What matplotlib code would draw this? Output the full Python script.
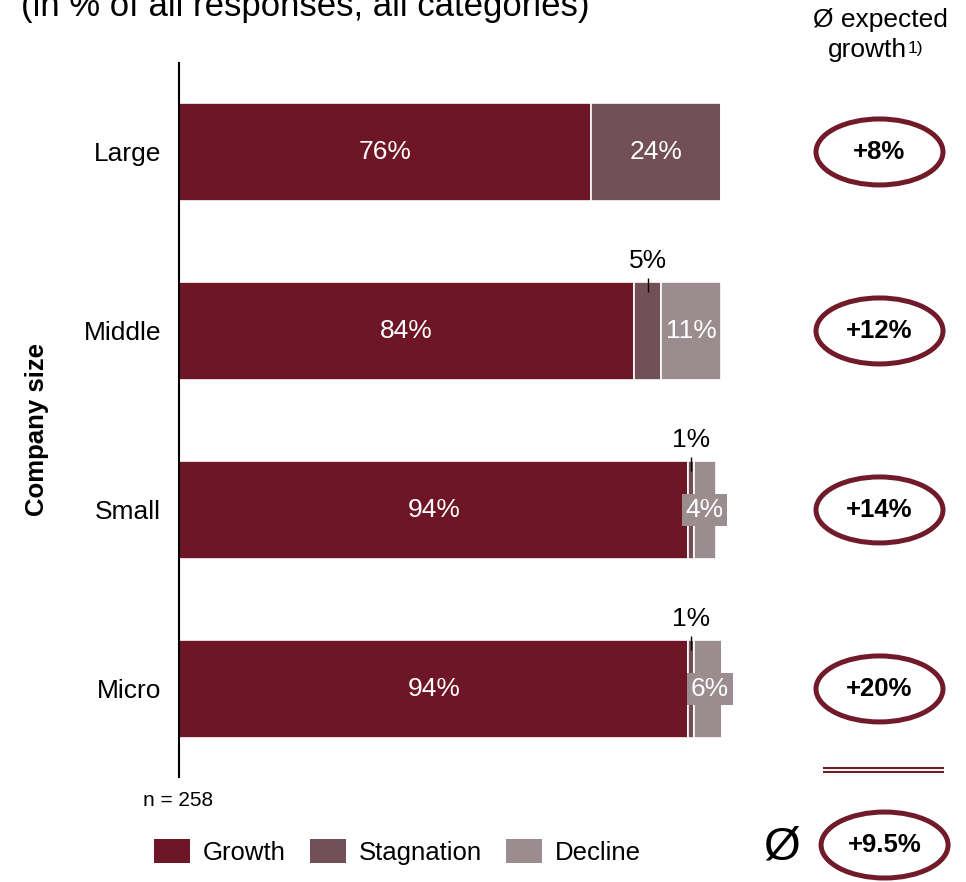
import matplotlib
matplotlib.use("Agg")
import matplotlib.pyplot as plt
from matplotlib.patches import Ellipse, Patch

plt.rcParams['font.family'] = ['Liberation Sans', 'DejaVu Sans']

# --- data ---------------------------------------------------------------
categories = ["Large", "Middle", "Small", "Micro"]
growth = [76, 84, 94, 94]
stagnation = [24, 5, 1, 1]
decline = [0, 11, 4, 6]
expected_growth = [8, 12, 14, 20]
overall_growth = 9.5
n_responses = 258
series_names = ["Growth", "Stagnation", "Decline"]

# --- style --------------------------------------------------------------
C_GROWTH = "#6E1526"
C_STAG = "#735058"
C_DECL = "#9B8D8F"
C_RING = "#701A2A"

W, H = 966, 882
fig = plt.figure(figsize=(W / 100, H / 100), dpi=100)


def fx(px):
    return px / W


def fy(py):
    return 1 - py / H


# main bar axes: x from 179 px to 721 px, y from 63 px to 777 px
ax = fig.add_axes([fx(179), fy(777), fx(542), (777 - 63) / H])
ypos = list(range(len(categories)))
bar_h = 0.55

lefts_stag = [g for g in growth]
lefts_decl = [g + s for g, s in zip(growth, stagnation)]
ax.barh(ypos, growth, height=bar_h, color=C_GROWTH, edgecolor="white", linewidth=1.2)
ax.barh(ypos, stagnation, left=lefts_stag, height=bar_h, color=C_STAG,
        edgecolor="white", linewidth=1.2)
ax.barh(ypos, decline, left=lefts_decl, height=bar_h, color=C_DECL,
        edgecolor="white", linewidth=1.2)

ax.set_xlim(0, 100)
ax.set_ylim(3.492, -0.497)
ax.set_yticks(ypos)
ax.set_yticklabels(categories, fontsize=19)
ax.tick_params(axis="y", length=0, pad=13)
ax.set_xticks([])
for side in ("top", "right", "bottom"):
    ax.spines[side].set_visible(False)
ax.spines["left"].set_linewidth(1.5)
ax.spines["left"].set_color("black")

LABEL_FS = 19
for i in ypos:
    g, s, d = growth[i], stagnation[i], decline[i]
    ax.text(g / 2, i, f"{g}%", color="white", fontsize=LABEL_FS,
            ha="center", va="center")
    if s > 0:
        cx = g + s / 2
        if s >= 10:
            ax.text(cx, i, f"{s}%", color="white", fontsize=LABEL_FS,
                    ha="center", va="center")
        else:
            top = i - bar_h / 2
            ax.plot([cx, cx], [top - 0.022, top + 0.058], color="black",
                    lw=1.0, solid_capstyle="butt", clip_on=False)
            ax.text(cx, top - 0.115, f"{s}%", color="black", fontsize=LABEL_FS,
                    ha="center", va="center", clip_on=False)
    if d > 0:
        cx = g + s + d / 2
        box = None
        if d < 8:
            box = dict(boxstyle="square,pad=0.14", facecolor=C_DECL,
                       edgecolor="none")
        ax.text(cx, i, f"{d}%", color="white", fontsize=LABEL_FS,
                ha="center", va="center", bbox=box, clip_on=False)

fig.text(fx(37), fy(430), "Company size", rotation=90, fontsize=18.5,
         fontweight="bold", ha="center", va="center")
fig.text(fx(143), fy(800), f"n = {n_responses}", fontsize=15,
         ha="left", va="center")

# title line (runs off the top edge)
fig.text(fx(21), fy(16), "(in % of all responses, all categories)",
         fontsize=25, ha="left", va="baseline")

# --- expected growth column ---------------------------------------------
rax = fig.add_axes([fx(816), fy(777), fx(127), (777 - 63) / H])
rax.set_xlim(0, 1)
rax.set_ylim(ax.get_ylim())
rax.axis("off")

ring_h = 66 / 179
for i, v in zip(ypos, expected_growth):
    rax.add_patch(Ellipse((0.5, i), 1.0, ring_h, facecolor="white",
                          edgecolor=C_RING, lw=3.6, clip_on=False))
    rax.text(0.5, i, f"+{v:g}%", fontsize=18.5, fontweight="bold",
             ha="center", va="center", clip_on=False)

# double rule above the overall average
for yy in (3.440, 3.463):
    rax.plot([0.055, 1.008], [yy, yy], color=C_RING, lw=1.5,
             solid_capstyle="butt", clip_on=False)

rax.add_patch(Ellipse((0.54, 3.872), 1.0, ring_h, facecolor="white",
                      edgecolor=C_RING, lw=3.6, clip_on=False))
rax.text(0.54, 3.872, f"+{overall_growth:g}%", fontsize=18.5,
         fontweight="bold", ha="center", va="center", clip_on=False)
fig.text(fx(782), fy(848), "Ø", fontsize=34, ha="center", va="center")

# column header
fig.text(fx(880), fy(27), "Ø expected", fontsize=19, ha="center",
         va="baseline")
fig.text(fx(907), fy(57), "growth", fontsize=19, ha="right", va="baseline")
fig.text(fx(908), fy(53), "1)", fontsize=12.5, ha="left", va="baseline")

# --- legend -------------------------------------------------------------
handles = [Patch(facecolor=c, edgecolor="none") for c in (C_GROWTH, C_STAG, C_DECL)]
fig.legend(handles, series_names, loc="center left",
           bbox_to_anchor=(fx(154), fy(852)), ncol=3, frameon=False,
           fontsize=18.5, handlelength=1.4, handleheight=1.05,
           handletextpad=0.5, columnspacing=0.95, borderpad=0,
           borderaxespad=0)

fig.savefig("out.png", dpi=100)
